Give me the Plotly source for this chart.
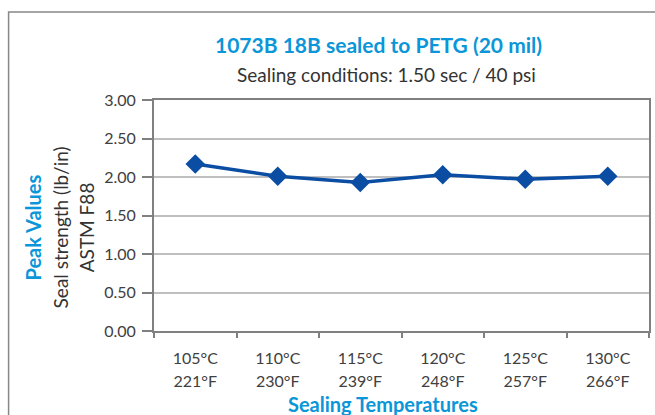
import plotly.graph_objects as go

temps_c = ["105°C", "110°C", "115°C", "120°C", "125°C", "130°C"]
temps_f = ["221°F", "230°F", "239°F", "248°F", "257°F", "266°F"]
peak_values = [2.17, 2.01, 1.93, 2.03, 1.97, 2.01]
y_ticks = [0, 0.5, 1.0, 1.5, 2.0, 2.5, 3.0]
y_tick_labels = ["0.00", "0.50", "1.00", "1.50", "2.00", "2.50", "3.00"]

FONT = "Lato"
BLUE = "#0A96D8"
LINE = "#0B4DA2"
TXT = "#404040"
DARK = "#333333"

L, R, T, B = 154, 651, 100, 331
PW, PH = R - L, B - T

def px(x):
    return (x - L) / PW

def py(y):
    return (B - y) / PH

idx = list(range(len(temps_c)))
boundaries = [i - 0.5 for i in range(len(temps_c) + 1)]

fig = go.Figure()
fig.add_trace(go.Scatter(
    x=idx, y=peak_values, mode="lines+markers",
    line=dict(color=LINE, width=3.5),
    marker=dict(symbol="diamond", size=15, color=LINE),
    showlegend=False, hoverinfo="skip"))
# invisible helpers to activate the overlay axes
fig.add_trace(go.Scatter(x=[0], y=[0], mode="markers", marker=dict(opacity=0),
                         showlegend=False, hoverinfo="skip", xaxis="x2"))
fig.add_trace(go.Scatter(x=[0], y=[0], mode="markers", marker=dict(opacity=0),
                         showlegend=False, hoverinfo="skip", xaxis="x3"))

xr = [-0.5, len(temps_c) - 0.5]
fig.update_layout(
    width=655, height=415,
    margin=dict(l=L, r=655 - R, t=T, b=415 - B),
    paper_bgcolor="white", plot_bgcolor="white",
    font=dict(family=FONT, color=TXT, size=16),
    xaxis=dict(range=xr, tickmode="array", tickvals=idx, ticktext=temps_c,
               showgrid=False, zeroline=False, showline=True,
               linecolor="#808080", linewidth=2, mirror=True,
               ticks="", ticklabelstandoff=12, tickfont=dict(size=16, color=TXT)),
    xaxis2=dict(overlaying="x", range=xr, side="bottom",
                tickmode="array", tickvals=boundaries,
                ticks="outside", ticklen=6, tickcolor="#808080", tickwidth=1.5,
                showticklabels=False, showgrid=False, zeroline=False, showline=False),
    xaxis3=dict(overlaying="x", range=xr, side="bottom",
                tickmode="array", tickvals=idx, ticktext=temps_f, ticks="",
                ticklabelstandoff=39, tickfont=dict(size=16, color=TXT),
                showgrid=False, zeroline=False, showline=False),
    yaxis=dict(range=[0, 3.0], tickmode="array", tickvals=y_ticks,
               ticktext=y_tick_labels, showgrid=True, gridcolor="#BFBFBF",
               gridwidth=1.5, zeroline=False, showline=True,
               linecolor="#808080", linewidth=2, mirror=True,
               ticks="outside", ticklen=10, tickcolor="#808080", tickwidth=1.5,
               ticklabelstandoff=3, tickfont=dict(size=16, color=TXT)),
)

# outer chart border
fig.add_shape(type="rect", xref="paper", yref="paper",
              x0=px(8), x1=px(662), y0=py(422), y1=py(12),
              line=dict(color="#888888", width=1.5), layer="below")

fig.add_annotation(text="<b>1073B 18B sealed to PETG (20 mil)</b>", xref="paper", yref="paper",
                   x=px(379), y=py(45), showarrow=False,
                   font=dict(size=21, color=BLUE, family=FONT), xanchor="center", yanchor="middle")
fig.add_annotation(text="Sealing conditions: 1.50 sec / 40 psi", xref="paper", yref="paper",
                   x=px(387), y=py(74), showarrow=False,
                   font=dict(size=19, color=DARK, family=FONT), xanchor="center", yanchor="middle")
fig.add_annotation(text="<b>Sealing Temperatures</b>", xref="paper", yref="paper",
                   x=px(384), y=py(404), showarrow=False,
                   font=dict(size=20, color=BLUE, family=FONT), xanchor="center", yanchor="middle")
fig.add_annotation(text="<b>Peak Values</b>", xref="paper", yref="paper",
                   x=px(33), y=py(227), showarrow=False, textangle=-90,
                   font=dict(size=20, color=BLUE, family=FONT), xanchor="center", yanchor="middle")
fig.add_annotation(text="Seal strength (lb/in)", xref="paper", yref="paper",
                   x=px(60), y=py(227), showarrow=False, textangle=-90,
                   font=dict(size=19, color=DARK, family=FONT), xanchor="center", yanchor="middle")
fig.add_annotation(text="ASTM F88", xref="paper", yref="paper",
                   x=px(86), y=py(227), showarrow=False, textangle=-90,
                   font=dict(size=19, color=DARK, family=FONT), xanchor="center", yanchor="middle")

fig.write_html("out.html", config={"displayModeBar": False},
               post_script="document.body.style.margin='0';")
